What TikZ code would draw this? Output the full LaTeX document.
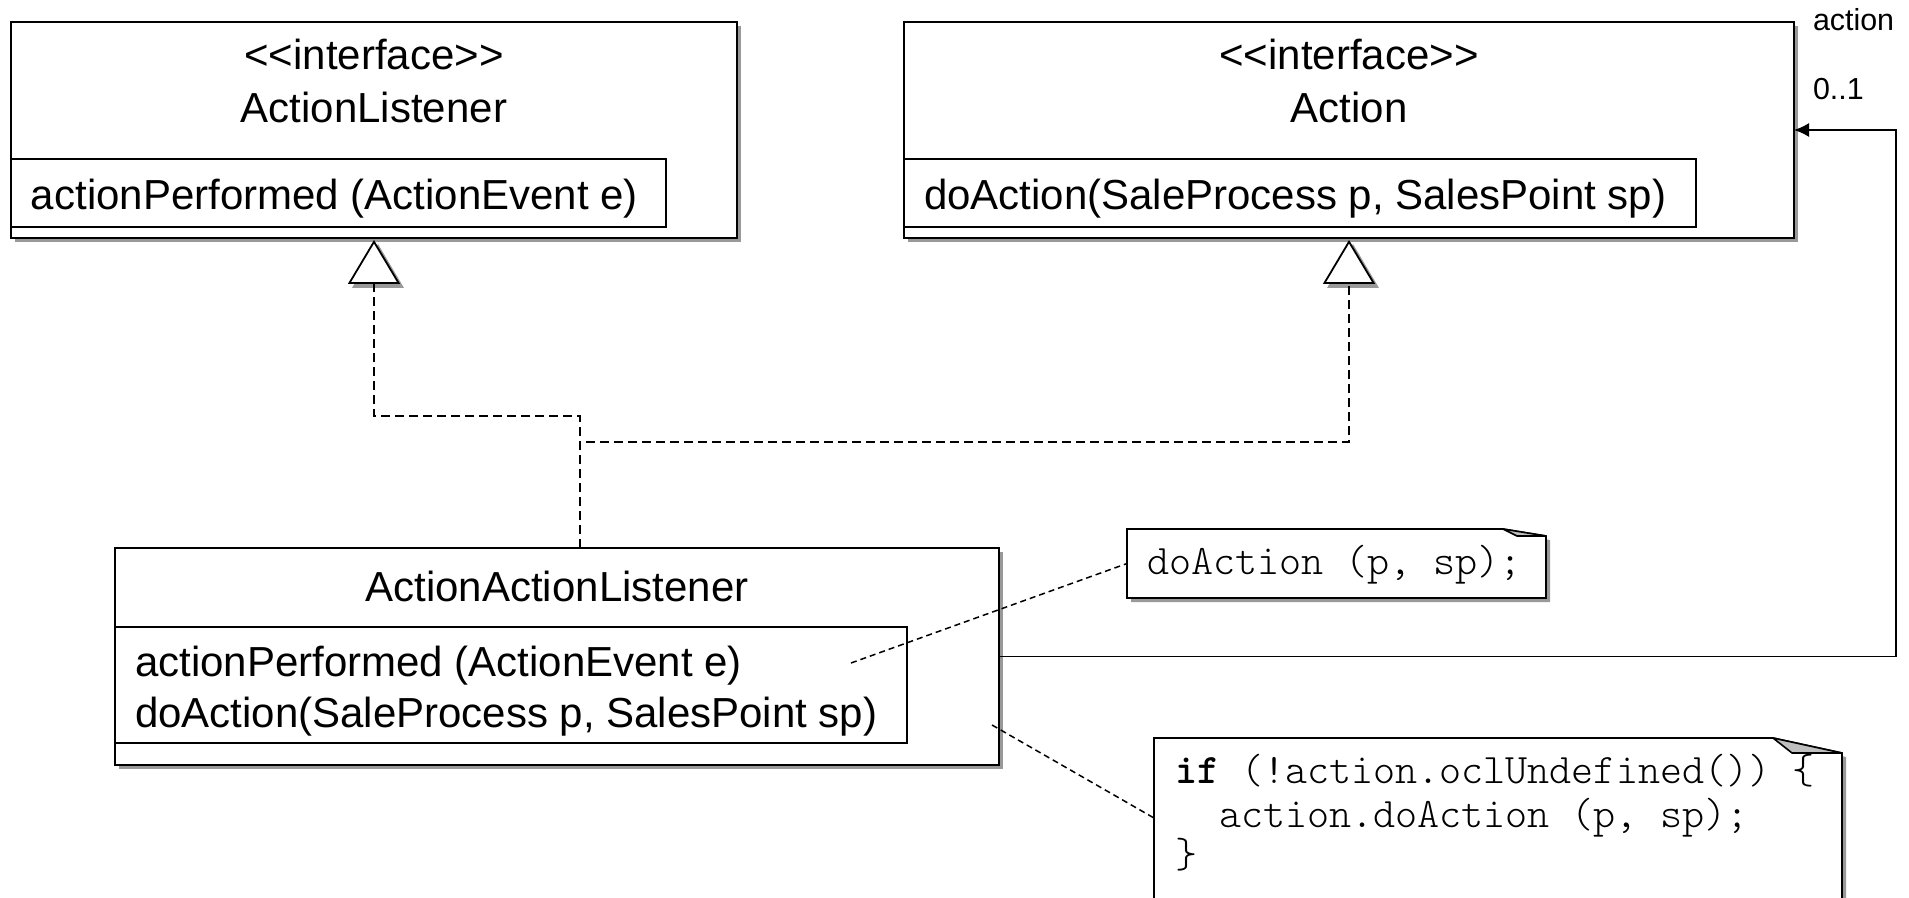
\documentclass[tikz,border=0pt]{standalone}
\usepackage{fontspec}
\setmainfont{Liberation Sans}
\setmonofont{lmmonolt10-regular.otf}[BoldFont=lmmonolt10-bold.otf]
\usetikzlibrary{arrows.meta,shadows,calc}
\tikzset{
 classbox/.style={draw, line width=1pt, fill=white, inner sep=0pt, outer sep=0pt,
   drop shadow={shadow xshift=2pt, shadow yshift=-2pt, fill=black!40, opacity=1}},
 compbox/.style={draw, line width=0.6pt, inner sep=0pt, outer sep=0pt},
 sans/.style={inner sep=0pt, outer sep=0pt, font=\fontsize{21pt}{25pt}\selectfont},
 small/.style={inner sep=0pt, outer sep=0pt, font=\fontsize{15.2pt}{17pt}\selectfont},
 mono/.style={inner sep=0pt, outer sep=0pt, font=\fontsize{21pt}{21pt}\ttfamily},
 notearea/.style={inner sep=0pt, outer sep=0pt},
 realize/.style={line width=0.7pt, dash pattern=on 4.5pt off 2.5pt,
   -{Triangle[open, fill=white, length=22pt, width=26pt, line width=0.9pt]}},
 assoc/.style={line width=0.75pt, -{Latex[length=7.5pt, width=7pt]}},
 notelink/.style={line width=0.75pt, dash pattern=on 3pt off 2pt},
 noteline/.style={draw, line width=0.8pt, fill=white},
 fold/.style={draw, line width=0.8pt, fill=black!25, line join=round},
 shade/.style={fill=black!40},
}
\begin{document}
\begin{tikzpicture}[x=0.5pt,y=-0.5pt]
\useasboundingbox (0,0) rectangle (1909,898);
\clip (0,0) rectangle (1909,898);
\fill[white] (0,0) rectangle (1909,898);

% ---- ActionListener
\node[classbox, minimum width=363pt, minimum height=108pt] (al) at (374,130) {};
\node[compbox, minimum width=327.5pt, minimum height=34pt] (alm) at (338.5,193) {};
\node[sans, anchor=base] (als) at (374,70) {<\kern0pt<interface>\kern0pt>};
\node[sans, anchor=base] (aln) at (374,123) {ActionListener};
\node[sans, anchor=base west] (alo) at (31,210) {actionPerformed (ActionEvent e)};

% ---- Action
\node[classbox, minimum width=445pt, minimum height=108pt] (act) at (1349,130) {};
\node[compbox, minimum width=396pt, minimum height=34pt] (actm) at (1300,193) {};
\node[sans, anchor=base] (acts) at (1349,70) {<\kern0pt<interface>\kern0pt>};
\node[sans, anchor=base] (actn) at (1349,123) {Action};
\node[sans, anchor=base west] (acto) at (924,210) {doAction(SaleProcess p, SalesPoint sp)};

% ---- ActionActionListener
\node[classbox, minimum width=442pt, minimum height=108.5pt] (aal) at (557,656.5) {};
\node[compbox, minimum width=396pt, minimum height=58pt] (aalm) at (511,685) {};
\node[sans, anchor=base] (aaln) at (557,601) {ActionActionListener};
\node[sans, anchor=base west] (aalo1) at (135,676) {actionPerformed (ActionEvent e)};
\node[sans, anchor=base west] (aalo2) at (135,727) {doAction(SaleProcess p, SalesPoint sp)};

% ---- notes
\node[notearea, minimum width=209.5pt, minimum height=34.5pt] (n1) at (1336.5,563.5) {};
\node[notearea, minimum width=344pt, minimum height=80pt] (n2) at (1498,818) {};

\fill[shade] ([xshift=2pt,yshift=-2pt]n1.south west) -- ([xshift=2pt,yshift=-2pt]n1.north west)
  -- ([xshift=-19.5pt,yshift=-2pt]n1.north east) -- ([xshift=2pt,yshift=-5.5pt]n1.north east)
  -- ([xshift=2pt,yshift=-2pt]n1.south east) -- cycle;
\path[noteline] (n1.south west) -- (n1.north west) -- ([xshift=-21.5pt]n1.north east)
  -- ([yshift=-3.5pt]n1.north east) -- (n1.south east) -- cycle;
\path[fold] ([xshift=-21.5pt]n1.north east) -- ([xshift=-14.5pt,yshift=-3.5pt]n1.north east)
  -- ([yshift=-3.5pt]n1.north east) -- cycle;

\fill[shade] ([xshift=2pt,yshift=-22pt]n2.south west) -- ([xshift=2pt,yshift=-2pt]n2.north west)
  -- ([xshift=-32.5pt,yshift=-2pt]n2.north east) -- ([xshift=2pt,yshift=-9.5pt]n2.north east)
  -- ([xshift=2pt,yshift=-22pt]n2.south east) -- cycle;
\path[noteline] ([yshift=-20pt]n2.south west) -- (n2.north west) -- ([xshift=-34.5pt]n2.north east)
  -- ([yshift=-7.5pt]n2.north east) -- ([yshift=-20pt]n2.south east) -- cycle;

\node[mono, anchor=base west] (n1t) at (1147,574) {doAction (p, sp);};
\node[mono, anchor=base west] (n2a) at (1175,783) {\textbf{if} (!action.oclUndefined()) \{};
\node[mono, anchor=base west] (n2b) at (1219,827) {action.doAction (p, sp);};
\node[mono, anchor=base west] (n2c) at (1175,867) {\}};

\path[fold] ([xshift=-34.5pt]n2.north east) -- ([xshift=-25pt,yshift=-7.5pt]n2.north east)
  -- ([yshift=-7.5pt]n2.north east) -- cycle;

% ---- realizations
\fill[shade] ([xshift=2pt,yshift=-3pt]al.south) -- ++(-13pt,-22pt) -- ++(26pt,0pt) -- cycle;
\fill[shade] ([xshift=2pt,yshift=-3pt]act.south) -- ++(-13pt,-22pt) -- ++(26pt,0pt) -- cycle;
\draw[realize] ([xshift=11.5pt]aal.north) -- ++(0,-132) -| ([yshift=-1pt]al.south);
\draw[realize] ([xshift=11.5pt]aal.north) -- ++(0,-106) -| ([yshift=-1pt]act.south);

% ---- association
\coordinate (rt) at (1896,130);
\draw[assoc] (aal.east) -| (rt) -- (act.east);
\node[small, anchor=base west] (lab1) at (1813,31) {action};
\node[small, anchor=base west] (lab2) at (1813,100) {0..1};

% ---- note links
\coordinate (c1) at (851,663);
\coordinate (c2) at (992,725);
\draw[notelink] (c1) -- (n1.west);
\draw[notelink] (c2) -- (n2.west);
\end{tikzpicture}
\end{document}
